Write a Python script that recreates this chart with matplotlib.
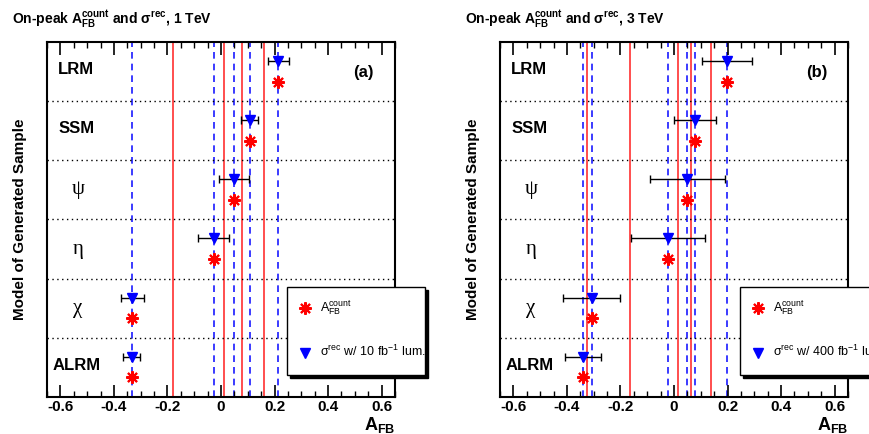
import numpy as np
import matplotlib
matplotlib.use('Agg')
import matplotlib.pyplot as plt
from matplotlib.patches import Rectangle
from matplotlib.ticker import MultipleLocator

plt.rcParams['font.family'] = ['Liberation Sans', 'DejaVu Sans']
plt.rcParams['mathtext.fontset'] = 'custom'
plt.rcParams['mathtext.rm'] = 'Liberation Sans'
plt.rcParams['mathtext.bf'] = 'Liberation Sans:bold'
plt.rcParams['mathtext.it'] = 'Liberation Sans:italic'

# models, top row first
models = ['LRM', 'SSM', 'ψ', 'η', 'χ', 'ALRM']
greek = [False, False, True, True, True, False]

# 1 TeV : A_FB^count and sigma^rec (mapped to A_FB) with error range
afb_1tev = [0.212, 0.107, 0.050, -0.027, -0.331, -0.331]
sig_1tev = [0.214, 0.108, 0.050, -0.027, -0.331, -0.331]
sig_lo_1tev = [0.174, 0.076, -0.009, -0.085, -0.372, -0.365]
sig_hi_1tev = [0.253, 0.139, 0.106, 0.031, -0.288, -0.302]
bound_1tev = [-0.180, 0.010, 0.078, 0.160]

# 3 TeV
afb_3tev = [0.198, 0.078, 0.050, -0.022, -0.307, -0.341]
sig_3tev = [0.198, 0.078, 0.050, -0.022, -0.307, -0.341]
sig_lo_3tev = [0.103, 0.000, -0.088, -0.159, -0.414, -0.407]
sig_hi_3tev = [0.293, 0.156, 0.190, 0.115, -0.202, -0.274]
bound_3tev = [-0.324, -0.164, 0.014, 0.064, 0.138]

panels = [
    dict(afb=afb_1tev, sig=sig_1tev, lo=sig_lo_1tev, hi=sig_hi_1tev, bnd=bound_1tev,
         tag='(a)', energy='1 TeV', lumi='10'),
    dict(afb=afb_3tev, sig=sig_3tev, lo=sig_lo_3tev, hi=sig_hi_3tev, bnd=bound_3tev,
         tag='(b)', energy='3 TeV', lumi='400'),
]

star = (8, 2, 0)
fig = plt.figure(figsize=(8.7, 4.34), dpi=100)

for k, p in enumerate(panels):
    left = [0.054, 0.5747][k]
    ax = fig.add_axes([left, 0.0853, 0.400, 0.818])
    n = len(models)
    rows = np.arange(n)[::-1]  # LRM at top

    for x in p['bnd']:
        ax.axvline(x, color='#ff3030', lw=1.2, zorder=1)
    for x in sorted(set(p['afb'])):
        ax.axvline(x, color='#1a1aff', lw=1.2, ls=(0, (4, 3)), zorder=1)
    for y in range(1, n):
        ax.axhline(y, color='black', lw=1, ls=(0, (1, 2.5)), zorder=1)

    sig = np.array(p['sig'])
    xerr = [sig - np.array(p['lo']), np.array(p['hi']) - sig]
    ax.errorbar(sig, rows + 0.68, xerr=xerr, fmt='none', ecolor='black',
                elinewidth=1, capsize=3, capthick=1, zorder=3)
    ax.plot(sig, rows + 0.68, 'v', color='blue', ms=7, zorder=4, ls='none')
    ax.plot(p['afb'], rows + 0.33, marker=star, color='red', ms=9, mew=1.5,
            ls='none', zorder=4)

    for name, g, r in zip(models, greek, rows):
        if g:
            ax.text(-0.535, r + 0.5, name, ha='center', va='center', fontsize=15,
                    family='Liberation Serif')
        else:
            ax.text(-0.54, r + 0.53, name, ha='center', va='center', fontsize=12,
                    fontweight='bold')

    ax.text(0.91, 0.915, p['tag'], transform=ax.transAxes, ha='center', va='center',
            fontsize=12, fontweight='bold')

    ax.set_xlim(-0.65, 0.65)
    ax.set_ylim(0, n)
    ax.xaxis.set_major_locator(MultipleLocator(0.2))
    ax.xaxis.set_minor_locator(MultipleLocator(0.05))
    ax.set_xticks([-0.6, -0.4, -0.2, 0, 0.2, 0.4, 0.6])
    ax.set_xticklabels(['-0.6', '-0.4', '-0.2', '0', '0.2', '0.4', '0.6'],
                       fontsize=11, fontweight='bold')
    ax.tick_params(axis='x', which='major', direction='in', top=True, length=9, width=1.2, pad=2.5)
    ax.tick_params(axis='x', which='minor', direction='in', top=True, length=4.5, width=1)
    ax.set_yticks([])
    for s in ax.spines.values():
        s.set_linewidth(1.5)

    ax.text(1.0, -0.05, r'$\mathbf{A}_{\mathbf{FB}}$', transform=ax.transAxes,
            ha='right', va='top', fontsize=13)
    ax.text(-0.078, 0.5, 'Model of Generated Sample', transform=ax.transAxes,
            rotation=90, ha='center', va='center', fontsize=11, fontweight='bold')

    fig.text(left - 0.040, 0.955,
             r'On-peak $\mathbf{A}_{\mathbf{FB}}^{\mathbf{count}}$ and σ$^{\mathbf{rec}}$, ' + p['energy'],
             ha='left', va='center', fontsize=10, fontweight='bold')

    # legend box with shadow
    x0, x1, y0, y1 = 0.690, 1.086, 0.062, 0.310
    ax.add_patch(Rectangle((x0 + 0.008, y0 - 0.009), x1 - x0, y1 - y0, transform=ax.transAxes,
                           facecolor='black', edgecolor='black', clip_on=False, zorder=6))
    ax.add_patch(Rectangle((x0, y0), x1 - x0, y1 - y0, transform=ax.transAxes,
                           facecolor='white', edgecolor='black', lw=1, clip_on=False, zorder=7))
    ax.plot([0.741], [0.251], marker=star, color='red', ms=9, mew=1.5, transform=ax.transAxes,
            clip_on=False, zorder=8)
    ax.plot([0.741], [0.124], 'v', color='blue', ms=7, transform=ax.transAxes,
            clip_on=False, zorder=8)
    ax.text(0.784, 0.251, r'$\mathrm{A}_{\mathrm{FB}}^{\mathrm{count}}$', transform=ax.transAxes,
            ha='left', va='center', fontsize=9, zorder=8)
    ax.text(0.784, 0.128, 'σ$^{\\mathrm{rec}}$ w/ ' + p['lumi'] + ' fb$^{\\mathrm{-1}}$ lum.',
            transform=ax.transAxes, ha='left', va='center', fontsize=9, zorder=8)

fig.savefig('out.png', dpi=100)
